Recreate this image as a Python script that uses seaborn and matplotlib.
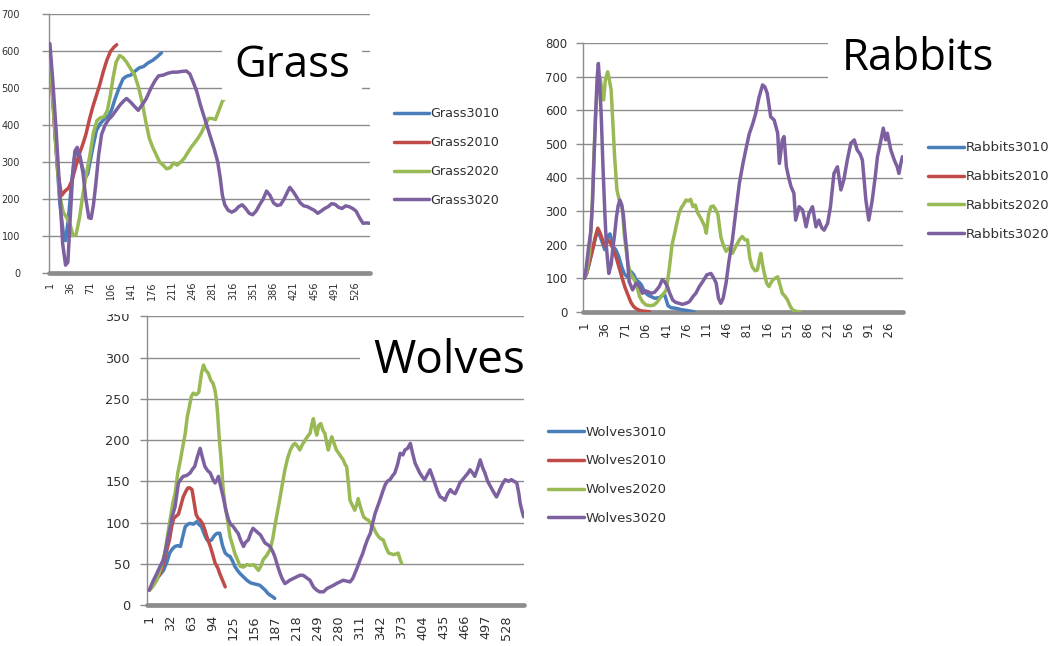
import matplotlib
matplotlib.use("Agg")
import matplotlib.pyplot as plt
from matplotlib.patches import Rectangle
import pandas as pd
import seaborn as sns

# ------------------------------------------------------------------ data
# (time step, population) samples for each simulation run
GRASS3010 = [(1, 600), (6, 480), (12, 330), (18, 190), (24, 110), (28, 88), (33, 150), (38, 240),
             (43, 310), (47, 335), (52, 315), (57, 285), (62, 258), (66, 268), (70, 300), (75, 340),
             (81, 385), (88, 405), (96, 418), (102, 425), (107, 440), (113, 470), (120, 500),
             (127, 525), (133, 532), (140, 535), (147, 545), (155, 555), (162, 558), (170, 568),
             (178, 575), (186, 585), (193, 595)]
GRASS2010 = [(1, 600), (5, 490), (10, 370), (15, 270), (21, 210), (27, 222), (33, 230), (39, 250),
             (45, 285), (51, 320), (57, 345), (63, 375), (69, 415), (75, 450), (81, 480), (87, 510),
             (93, 545), (99, 575), (105, 598), (111, 610), (116, 617)]
GRASS2020 = [(1, 600), (6, 470), (12, 330), (18, 210), (24, 165), (30, 150), (36, 130), (41, 102),
             (46, 104), (52, 150), (58, 215), (64, 270), (70, 320), (76, 380), (82, 412), (88, 420),
             (94, 422), (100, 440), (105, 480), (110, 530), (115, 570), (121, 588), (127, 582),
             (133, 570), (140, 552), (147, 535), (154, 500), (160, 460), (166, 410), (172, 365),
             (178, 340), (184, 320), (190, 300), (196, 292), (202, 282), (208, 285), (214, 298),
             (220, 292), (226, 300), (232, 310), (238, 325), (244, 340), (250, 352), (256, 365),
             (262, 380), (268, 400), (274, 418), (280, 418), (286, 415), (292, 440), (298, 465),
             (304, 475), (308, 478)]
GRASS3020 = [(1, 620), (6, 520), (12, 380), (18, 220), (23, 80), (28, 22), (32, 30), (36, 150),
             (40, 260), (44, 330), (48, 340), (53, 315), (58, 270), (63, 200), (68, 150), (72, 148),
             (76, 185), (80, 240), (85, 320), (90, 375), (96, 400), (102, 415), (108, 425),
             (115, 440), (122, 455), (128, 465), (133, 472), (140, 462), (147, 450), (153, 440),
             (160, 455), (167, 472), (175, 500), (182, 520), (188, 533), (196, 535), (204, 540),
             (212, 543), (220, 543), (228, 545), (236, 546), (242, 538), (248, 515), (254, 490),
             (260, 455), (266, 425), (272, 395), (278, 365), (284, 335), (290, 300), (294, 260),
             (298, 210), (302, 185), (308, 170), (314, 165), (320, 170), (326, 180), (332, 185),
             (338, 175), (344, 162), (350, 158), (356, 168), (362, 185), (368, 200), (374, 222),
             (380, 210), (386, 190), (392, 183), (398, 185), (404, 200), (410, 220), (414, 232),
             (420, 220), (426, 205), (432, 190), (438, 182), (444, 180), (450, 175), (456, 170),
             (462, 162), (468, 168), (474, 175), (480, 180), (486, 188), (492, 186), (498, 178),
             (504, 175), (510, 182), (516, 180), (522, 175), (528, 168), (534, 150), (540, 135),
             (546, 136), (552, 135)]

RABBITS3010 = [(1, 100), (5, 115), (10, 150), (15, 185), (20, 220), (24, 240), (28, 225), (32, 205),
               (36, 185), (41, 225), (45, 232), (50, 195), (55, 185), (60, 165), (65, 135), (70, 112),
               (75, 104), (81, 120), (86, 110), (90, 95), (95, 88), (99, 80), (103, 65), (107, 55),
               (112, 48), (116, 45), (122, 40), (130, 42), (135, 48), (139, 52), (142, 35), (145, 18),
               (150, 12), (159, 10), (168, 6), (176, 4), (183, 2), (190, 0)]
RABBITS2010 = [(1, 100), (5, 115), (10, 150), (15, 185), (20, 225), (24, 249), (28, 235), (32, 215),
               (36, 195), (41, 214), (46, 204), (51, 185), (56, 160), (61, 130), (66, 100), (71, 72),
               (76, 50), (81, 28), (86, 15), (91, 8), (96, 4), (101, 2), (107, 1), (113, 0)]
RABBITS2020 = [(1, 100), (5, 120), (10, 180), (14, 300), (17, 450), (20, 581), (24, 688), (28, 700),
               (31, 660), (34, 631), (37, 690), (41, 715), (44, 690), (47, 661), (50, 562), (53, 462),
               (57, 363), (61, 333), (66, 313), (70, 224), (76, 144), (80, 115), (84, 104), (90, 85),
               (96, 45), (101, 30), (107, 20), (114, 18), (121, 20), (127, 30), (133, 45), (138, 55),
               (142, 65), (145, 100), (148, 140), (152, 200), (156, 230), (160, 262), (164, 293),
               (168, 310), (172, 320), (176, 333), (180, 330), (184, 335), (188, 313), (192, 318),
               (196, 295), (200, 283), (204, 270), (208, 255), (211, 234), (215, 290), (219, 313),
               (223, 315), (227, 305), (231, 290), (236, 224), (240, 200), (245, 180), (250, 190),
               (256, 174), (262, 195), (268, 214), (273, 224), (278, 214), (282, 214), (286, 160),
               (290, 134), (295, 122), (299, 124), (303, 160), (305, 174), (308, 140), (311, 114),
               (315, 85), (319, 75), (325, 94), (330, 100), (334, 104), (338, 80), (342, 55),
               (347, 45), (351, 35), (356, 15), (360, 5), (366, 1), (372, 0)]
RABBITS3020 = [(1, 100), (4, 130), (8, 190), (12, 240), (15, 330), (18, 480), (21, 620), (23, 700),
               (25, 740), (27, 690), (30, 581), (33, 430), (36, 300), (39, 190), (43, 114), (47, 140),
               (50, 190), (53, 230), (56, 280), (59, 315), (62, 333), (65, 320), (68, 290), (71, 230),
               (74, 180), (78, 90), (84, 65), (90, 85), (96, 75), (101, 55), (106, 62), (110, 60),
               (116, 55), (122, 58), (130, 75), (135, 95), (139, 90), (144, 75), (148, 55), (153, 35),
               (158, 28), (164, 25), (170, 22), (176, 25), (182, 30), (188, 45), (193, 55), (199, 75),
               (205, 90), (212, 110), (219, 114), (224, 100), (228, 85), (232, 40), (236, 25),
               (240, 40), (245, 85), (250, 150), (256, 214), (262, 300), (268, 383), (274, 440),
               (279, 482), (285, 530), (291, 560), (296, 590), (302, 640), (308, 676), (312, 670),
               (316, 651), (322, 581), (328, 571), (334, 532), (337, 442), (342, 512), (345, 522),
               (349, 432), (353, 400), (357, 373), (362, 353), (365, 273), (371, 313), (377, 303),
               (383, 253), (388, 293), (394, 313), (400, 253), (405, 273), (410, 250), (414, 243),
               (420, 263), (425, 313), (431, 412), (437, 432), (443, 363), (448, 393), (454, 452),
               (460, 502), (466, 512), (471, 482), (476, 470), (480, 452), (486, 333), (491, 273),
               (497, 333), (502, 400), (506, 462), (512, 512), (516, 547), (520, 512), (523, 532),
               (529, 482), (535, 452), (540, 432), (543, 412), (546, 440), (549, 462)]

WOLVES3010 = [(1, 18), (6, 24), (11, 30), (16, 36), (22, 42), (27, 52), (31, 63), (35, 68), (39, 71),
              (43, 72), (47, 71), (51, 85), (54, 95), (58, 98), (61, 99), (66, 98), (71, 101), (75, 97),
              (78, 95), (82, 86), (86, 79), (90, 78), (93, 79), (96, 83), (98, 85), (101, 87),
              (105, 87), (109, 72), (113, 63), (117, 60), (120, 59), (124, 53), (127, 47), (131, 42),
              (135, 38), (140, 34), (145, 30), (150, 27), (154, 26), (159, 25), (164, 24), (168, 21),
              (172, 18), (176, 14), (179, 12), (183, 10), (186, 8)]
WOLVES2010 = [(1, 18), (6, 24), (12, 32), (17, 38), (22, 50), (27, 67), (31, 80), (34, 95), (37, 105),
              (41, 108), (44, 110), (47, 119), (51, 131), (55, 138), (58, 142), (61, 142), (64, 140),
              (67, 125), (70, 110), (73, 105), (76, 103), (80, 98), (83, 91), (87, 80), (91, 71),
              (95, 60), (98, 51), (102, 45), (105, 38), (109, 30), (113, 22)]
WOLVES2020 = [(1, 18), (6, 22), (12, 30), (18, 45), (24, 63), (28, 85), (32, 105), (36, 125), (39, 135),
              (43, 160), (46, 172), (50, 190), (54, 208), (57, 228), (60, 240), (63, 253), (66, 257),
              (70, 255), (74, 258), (78, 281), (81, 291), (84, 285), (88, 281), (92, 272), (95, 269),
              (98, 260), (100, 249), (102, 230), (104, 204), (106, 185), (108, 164), (110, 140),
              (113, 119), (117, 100), (120, 83), (124, 72), (127, 63), (131, 55), (135, 47), (140, 46),
              (145, 49), (150, 48), (155, 49), (159, 45), (162, 42), (166, 48), (169, 55), (174, 60),
              (179, 67), (183, 80), (186, 95), (190, 113), (194, 131), (198, 150), (201, 164),
              (205, 178), (209, 188), (213, 194), (216, 196), (220, 192), (223, 188), (227, 195),
              (231, 200), (234, 204), (238, 208), (241, 220), (243, 226), (246, 212), (248, 206),
              (251, 218), (254, 220), (257, 212), (260, 208), (263, 195), (265, 188), (268, 198),
              (270, 204), (274, 195), (277, 188), (282, 182), (287, 176), (290, 170), (292, 168),
              (295, 145), (297, 127), (301, 120), (304, 115), (307, 122), (309, 129), (313, 117),
              (317, 107), (321, 104), (324, 103), (328, 98), (331, 95), (335, 88), (339, 83),
              (343, 80), (346, 79), (350, 70), (354, 63), (358, 62), (361, 61), (365, 62), (368, 63),
              (371, 55), (373, 51)]
WOLVES3020 = [(1, 18), (6, 28), (12, 38), (17, 47), (22, 55), (27, 75), (32, 95), (35, 108), (39, 119),
              (44, 148), (48, 153), (51, 156), (56, 157), (61, 160), (65, 165), (68, 168), (72, 180),
              (76, 190), (79, 180), (83, 168), (87, 163), (91, 160), (95, 152), (98, 148), (101, 152),
              (103, 156), (106, 145), (110, 131), (114, 115), (118, 103), (121, 98), (125, 95),
              (129, 90), (132, 87), (136, 78), (140, 71), (143, 76), (147, 79), (151, 88), (154, 93),
              (158, 90), (162, 87), (165, 85), (169, 79), (172, 75), (176, 73), (179, 71), (183, 65),
              (186, 59), (190, 48), (194, 38), (197, 32), (201, 26), (205, 28), (208, 30), (213, 32),
              (218, 34), (223, 36), (228, 36), (233, 33), (238, 30), (243, 22), (248, 18), (252, 16),
              (258, 16), (263, 20), (268, 22), (273, 24), (277, 26), (282, 28), (287, 30), (292, 29),
              (297, 28), (301, 32), (304, 38), (308, 46), (312, 55), (316, 63), (319, 71), (323, 80),
              (327, 87), (330, 98), (334, 111), (338, 120), (341, 127), (345, 137), (349, 146),
              (352, 150), (356, 152), (360, 157), (363, 160), (367, 170), (371, 184), (375, 182),
              (378, 188), (382, 190), (386, 196), (389, 185), (393, 172), (397, 165), (400, 160),
              (404, 155), (407, 152), (411, 158), (415, 164), (419, 155), (422, 148), (426, 138),
              (430, 131), (433, 130), (437, 127), (441, 135), (445, 140), (448, 137), (452, 135),
              (456, 142), (459, 148), (463, 152), (467, 156), (471, 160), (474, 164), (478, 160),
              (481, 156), (485, 165), (489, 176), (492, 168), (496, 160), (500, 150), (504, 144),
              (508, 138), (513, 131), (516, 136), (518, 140), (522, 147), (526, 152), (531, 150),
              (535, 152), (539, 150), (543, 148), (546, 135), (548, 123), (551, 113), (553, 107)]

GRASS_NAMES = ["Grass3010", "Grass2010", "Grass2020", "Grass3020"]
RABBITS_NAMES = ["Rabbits3010", "Rabbits2010", "Rabbits2020", "Rabbits3020"]
WOLVES_NAMES = ["Wolves3010", "Wolves2010", "Wolves2020", "Wolves3020"]

GRASS_XTICKS = [1, 36, 71, 106, 141, 176, 211, 246, 281, 316, 351, 386, 421, 456, 491, 526]
RABBITS_XTICKS = [1, 36, 71, 106, 141, 176, 211, 246, 281, 316, 351, 386, 421, 456, 491, 526]
WOLVES_XTICKS = [1, 32, 63, 94, 125, 156, 187, 218, 249, 280, 311, 342, 373, 404, 435, 466, 497, 528]
GRASS_YTICKS = [0, 100, 200, 300, 400, 500, 600, 700]
RABBITS_YTICKS = [0, 100, 200, 300, 400, 500, 600, 700, 800]
WOLVES_YTICKS = [0, 50, 100, 150, 200, 250, 300, 350]

# ------------------------------------------------------------------ style
COLORS = ["#4a7ebb", "#be4b48", "#98b954", "#7d60a0"]
GRID = "#8c8c8c"
TEXT = "#303030"
W, H = 1050, 646

sns.set_theme(style="white")
plt.rcParams["font.family"] = ["DejaVu Sans"]

fig = plt.figure(figsize=(W / 100, H / 100), dpi=100)
fig.patch.set_facecolor("white")


def fx(x):
    return x / W


def fy(y):
    return 1 - y / H


def panel(x0, x1, ytop, ybot):
    ax = fig.add_axes([fx(x0), fy(ybot), (x1 - x0) / W, (ybot - ytop) / H])
    ax.patch.set_alpha(0)
    return ax


def draw_chart(ax, runs, names, xlim, yticks, xticks, tick_fs, ypad, xpad,
               leg_x, leg_y, leg_fs, leg_space):
    handles = []
    for run, name, color in zip(runs, names, COLORS):
        df = pd.DataFrame(run, columns=["step", "population"])
        sns.lineplot(data=df, x="step", y="population", ax=ax, color=color,
                     linewidth=2.5, estimator=None, sort=False,
                     solid_joinstyle="round", solid_capstyle="round", zorder=3)
        line = ax.get_lines()[-1]
        line.set_label(name)
        handles.append(line)

    ax.set_xlim(*xlim)
    ax.set_ylim(yticks[0], yticks[-1])
    ax.set_yticks(yticks)
    ax.set_yticklabels([str(t) for t in yticks])
    ax.set_xticks(xticks)
    ax.set_xticklabels([str(t) for t in xticks], rotation=90)
    ax.set_xlabel("")
    ax.set_ylabel("")

    ax.yaxis.grid(True, color=GRID, linewidth=1.0)
    ax.xaxis.grid(False)
    ax.set_axisbelow(True)
    for side in ("top", "right", "bottom"):
        ax.spines[side].set_visible(False)
    ax.spines["left"].set_color(GRID)
    ax.spines["left"].set_linewidth(1.0)

    ax.tick_params(axis="y", which="both", left=True, length=5, width=1.0,
                   color=GRID, direction="out", pad=ypad,
                   labelsize=tick_fs, labelcolor=TEXT)
    ax.tick_params(axis="x", which="both", bottom=True, length=0, pad=xpad,
                   labelsize=tick_fs, labelcolor=TEXT)

    # thick grey category axis
    ax.axhline(0, color=GRID, linewidth=3.4, clip_on=False, zorder=2.5)

    leg = ax.legend(handles=handles, labels=names, loc="center left",
                    bbox_to_anchor=(fx(leg_x), fy(leg_y)),
                    bbox_transform=fig.transFigure, frameon=False,
                    fontsize=leg_fs, handlelength=2.7, handletextpad=0.15,
                    labelspacing=leg_space, borderpad=0, borderaxespad=0)
    for t in leg.get_texts():
        t.set_color(TEXT)


def mask(x0, y0, x1, y1):
    fig.add_artist(Rectangle((fx(x0), fy(y1)), (x1 - x0) / W, (y1 - y0) / H,
                             transform=fig.transFigure, facecolor="white",
                             edgecolor="none", zorder=5))


# Wolves (lower chart)
ax_w = panel(146.7, 524, 316.4, 605)
draw_chart(ax_w, [WOLVES3010, WOLVES2010, WOLVES2020, WOLVES3020], WOLVES_NAMES,
           (-2.8, 553.6), WOLVES_YTICKS, WOLVES_XTICKS, 9.3, 7, 7.2,
           548, 475.3, 9.5, 1.2)

# Grass (upper left)
ax_g = panel(49.3, 370, 14, 273.3)
draw_chart(ax_g, [GRASS3010, GRASS2010, GRASS2020, GRASS3020], GRASS_NAMES,
           (0, 552), GRASS_YTICKS, GRASS_XTICKS, 7, 16, 6,
           394, 157, 9.2, 1.25)

# Rabbits (upper right)
ax_r = panel(582.7, 903, 43.3, 311.7)
draw_chart(ax_r, [RABBITS3010, RABBITS2010, RABBITS2020, RABBITS3020], RABBITS_NAMES,
           (-2, 550), RABBITS_YTICKS, RABBITS_XTICKS, 8.5, 6, 7.2,
           928, 191.2, 9.5, 1.2)

# title boxes sit on top of the gridlines
mask(222, 25, 362, 100)
mask(828, 33, 1010, 100)
mask(360, 325, 530, 392)
# edge of the upper-right chart cuts its category labels short
mask(570, 338, 915, 352)
# edge of the upper-left chart overlaps the top of the lower chart's labels
mask(95, 300, 140, 313.5)

fig.text(fx(234), fy(77), "Grass", fontsize=31.5, family="Open Sans",
         color="black", va="baseline", ha="left", zorder=6)
fig.text(fx(842), fy(70), "Rabbits", fontsize=31.5, family="Open Sans",
         color="black", va="baseline", ha="left", zorder=6)
fig.text(fx(373), fy(372.7), "Wolves", fontsize=33, family="Open Sans",
         color="black", va="baseline", ha="left", zorder=6)

fig.savefig("out.png", dpi=100, facecolor="white")
